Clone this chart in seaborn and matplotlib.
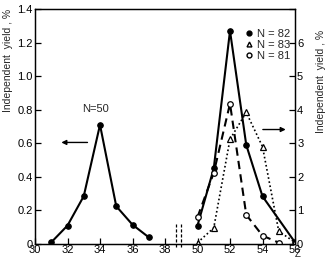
import matplotlib
matplotlib.use("Agg")
import matplotlib.pyplot as plt
import seaborn as sns
import pandas as pd
from matplotlib.lines import Line2D

# ---- data ----
z_left = [31, 32, 33, 34, 35, 36, 37]
y_n50 = [0.01, 0.11, 0.285, 0.71, 0.225, 0.115, 0.04]

z_n82 = [50, 51, 52, 53, 54, 56]
y_n82 = [0.55, 2.25, 6.35, 2.95, 1.42, 0.05]

z_n83 = [50, 51, 52, 53, 54, 55, 56]
y_n83 = [0.04, 0.48, 3.12, 3.92, 2.9, 0.38, 0.05]

z_n81 = [50, 51, 52, 53, 54, 55]
y_n81 = [0.8, 2.12, 4.18, 0.87, 0.25, 0.04]

xtick_labels = ["30", "32", "34", "36", "38", "50", "52", "54", "56"]
xtick_values = [30, 32, 34, 36, 38, 50, 52, 54, 56]
left_ticks = [0, 0.2, 0.4, 0.6, 0.8, 1.0, 1.2, 1.4]
left_ticklabels = ["0", "0.2", "0.4", "0.6", "0.8", "1.0", "1.2", "1.4"]
right_ticks = [0, 1, 2, 3, 4, 5, 6, 7]
right_ticklabels = ["0", "1", "2", "3", "4", "5", "6", ""]
legend_labels = ["N = 82", "N = 83", "N = 81"]

# broken axis: Z >= 50 shifted left by this amount
OFFSET = 10


def shift(zs):
    return [z - OFFSET if z >= 50 else z for z in zs]


sns.set_theme(style="ticks")
plt.rcParams["font.family"] = ["Liberation Sans", "DejaVu Sans"]
plt.rcParams["axes.linewidth"] = 0.9
FS = 8
FSL = 7.5

fig = plt.figure(figsize=(3.28, 2.60), dpi=100)
ax = fig.add_axes([35 / 328, 16 / 260, 260 / 328, 235 / 260])
ax2 = ax.twinx()

lw = 1.5
df50 = pd.DataFrame({"x": shift(z_left), "y": y_n50})
sns.lineplot(data=df50, x="x", y="y", ax=ax, color="black", lw=lw,
             marker="o", markersize=4, markeredgecolor="black")

d82 = pd.DataFrame({"x": shift(z_n82), "y": y_n82})
d83 = pd.DataFrame({"x": shift(z_n83), "y": y_n83})
d81 = pd.DataFrame({"x": shift(z_n81), "y": y_n81})
sns.lineplot(data=d82, x="x", y="y", ax=ax2, color="black", lw=lw,
             marker="o", markersize=4, markeredgecolor="black")
sns.lineplot(data=d81, x="x", y="y", ax=ax2, color="black", lw=lw,
             linestyle=(0, (4, 2.5)), marker="o", markersize=4,
             markerfacecolor="white", markeredgecolor="black", markeredgewidth=0.9)
sns.lineplot(data=d83, x="x", y="y", ax=ax2, color="black", lw=1.2,
             linestyle=(0, (1, 1.5)), marker="^", markersize=4,
             markerfacecolor="white", markeredgecolor="black", markeredgewidth=0.9)

ax.set_xlim(30, 46)
ax.set_ylim(0, 1.4)
ax2.set_ylim(0, 7)
ax.set_xticks(shift(xtick_values))
ax.set_xticklabels(xtick_labels)
ax.set_yticks(left_ticks)
ax.set_yticklabels(left_ticklabels)
ax2.set_yticks(right_ticks)
ax2.set_yticklabels(right_ticklabels)

for a in (ax, ax2):
    a.tick_params(direction="in", length=4, width=0.9, labelsize=FS,
                  pad=1.5, colors="black")
    for s in a.spines.values():
        s.set_visible(True)
        s.set_color("black")
ax.tick_params(axis="x", pad=1)
ax.set_xlabel("")
ax2.set_xlabel("")
ax.set_ylabel("Independent  yield , %", fontsize=FSL)
ax.yaxis.set_label_coords(-0.085, 0.78)
ax2.set_ylabel("Independent  yield , %", fontsize=FSL, rotation=90)
ax2.yaxis.set_label_coords(1.08, 0.69)
fig.text(298 / 328, 1 / 260, "Z", fontsize=7, ha="center", va="bottom")

# break marks
for xb in (38.7, 39.0):
    ax.plot([xb, xb], [-0.02, 0.12], color="black", lw=0.9,
            linestyle=(0, (2.5, 1.5)), clip_on=False)

# annotations
ax.text(33.7, 0.807, "N=50", fontsize=FS, ha="center", va="center")
ax.annotate("", xy=(31.45, 0.605), xytext=(33.4, 0.605),
            arrowprops=dict(arrowstyle="-|>", color="black", lw=1.0,
                            mutation_scale=7))
ax2.annotate("", xy=(45.6, 3.41), xytext=(43.85, 3.41),
             arrowprops=dict(arrowstyle="-|>", color="black", lw=1.0,
                             mutation_scale=7))

handles = [
    Line2D([], [], ls="", marker="o", color="black", markersize=3.5),
    Line2D([], [], ls="", marker="^", markerfacecolor="white",
           markeredgecolor="black", markersize=3.5),
    Line2D([], [], ls="", marker="o", markerfacecolor="white",
           markeredgecolor="black", markersize=3.5),
]
ax2.legend(handles, legend_labels, loc="upper left",
           bbox_to_anchor=(0.785, 0.945), frameon=False, fontsize=FS,
           handlelength=0.6, handletextpad=0.4, labelspacing=0.1,
           borderpad=0.1)

fig.savefig("out.png", dpi=100)
